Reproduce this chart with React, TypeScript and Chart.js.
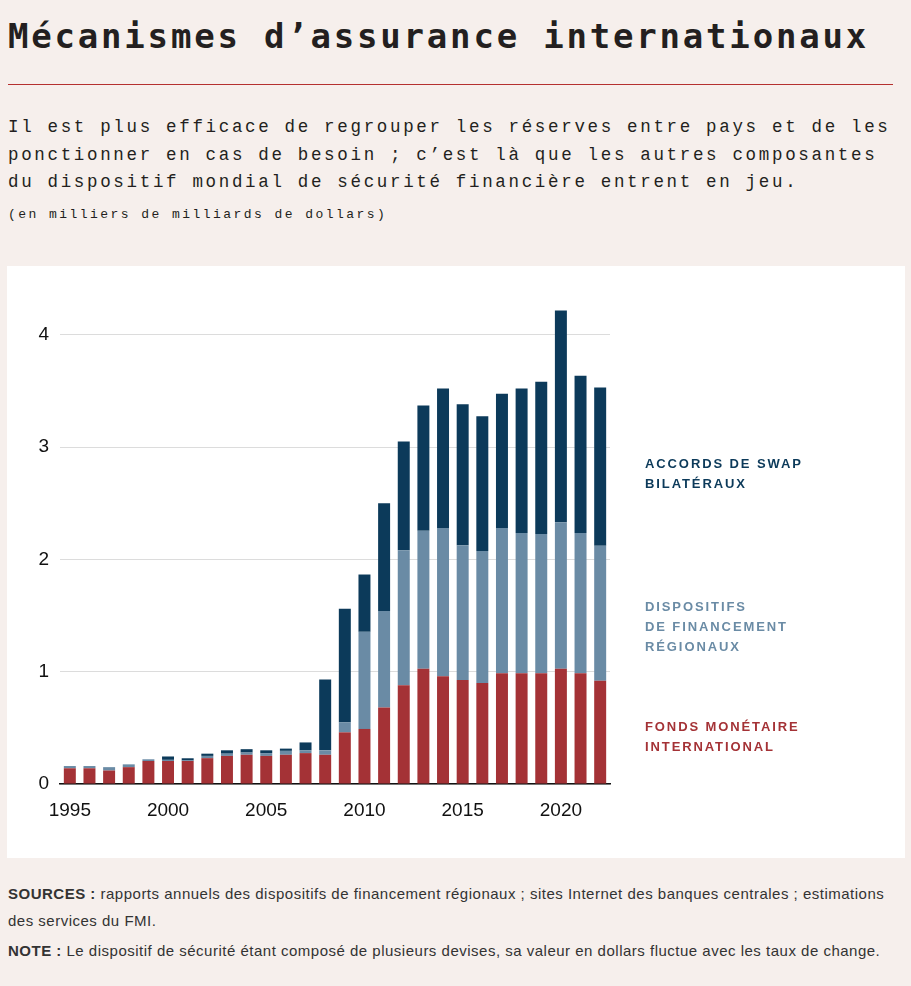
import React, { useEffect, useRef } from 'react';
import { Chart, registerables } from 'chart.js';

Chart.register(...registerables);

const years = [
  '1995', '1996', '1997', '1998', '1999', '2000', '2001', '2002', '2003', '2004',
  '2005', '2006', '2007', '2008', '2009', '2010', '2011', '2012', '2013', '2014',
  '2015', '2016', '2017', '2018', '2019', '2020', '2021', '2022',
];

// Fonds monétaire international
const fmi = [
  0.14, 0.14, 0.12, 0.15, 0.205, 0.205, 0.205, 0.23, 0.25, 0.26,
  0.25, 0.26, 0.275, 0.26, 0.46, 0.49, 0.68, 0.88, 1.025, 0.96,
  0.925, 0.9, 0.985, 0.985, 0.985, 1.025, 0.985, 0.92,
];

// Dispositifs de financement régionaux
const regional = [
  0.02, 0.02, 0.03, 0.025, 0.015, 0.01, 0.004, 0.02, 0.02, 0.02,
  0.025, 0.035, 0.025, 0.04, 0.09, 0.865, 0.86, 1.2, 1.23, 1.32,
  1.2, 1.175, 1.295, 1.25, 1.24, 1.305, 1.25, 1.2,
];

// Accords de swap bilatéraux
const bilateral = [
  0, 0, 0, 0, 0, 0.03, 0.02, 0.02, 0.03, 0.03,
  0.025, 0.02, 0.07, 0.63, 1.01, 0.51, 0.96, 0.97, 1.115, 1.24,
  1.255, 1.2, 1.195, 1.285, 1.355, 1.885, 1.4, 1.41,
];

const yTicks = [0, 1, 2, 3, 4];
const labeledYears = ['1995', '2000', '2005', '2010', '2015', '2020'];

const RED = '#a43236';
const GREYBLUE = '#6a8ba5';
const NAVY = '#0c3a5a';
const BG = '#f6efec';

export default function App() {
  const canvasRef = useRef<HTMLCanvasElement | null>(null);

  useEffect(() => {
    document.body.style.margin = '0';
    document.body.style.background = BG;
    const canvas = canvasRef.current;
    if (!canvas) return;
    const chart = new Chart(canvas, {
      type: 'bar',
      data: {
        labels: years,
        datasets: [
          { label: 'Fonds monétaire international', data: fmi, backgroundColor: RED, borderWidth: 0 },
          { label: 'Dispositifs de financement régionaux', data: regional, backgroundColor: GREYBLUE, borderWidth: 0 },
          { label: 'Accords de swap bilatéraux', data: bilateral, backgroundColor: NAVY, borderWidth: 0 },
        ],
      },
      options: {
        animation: false,
        responsive: true,
        maintainAspectRatio: false,
        datasets: { bar: { barPercentage: 0.61, categoryPercentage: 1 } },
        layout: { padding: { left: 0, right: 295, top: 35, bottom: 34 } },
        plugins: { legend: { display: false }, tooltip: { enabled: false } },
        scales: {
          x: {
            stacked: true,
            grid: { display: false, drawTicks: false },
            border: { display: true, color: '#111111', width: 1.5 },
            ticks: {
              autoSkip: false,
              maxRotation: 0,
              padding: 15,
              color: '#111111',
              font: { family: '"Liberation Sans", Arial, sans-serif', size: 19 },
              callback: (_v: any, i: number) => (labeledYears.includes(years[i]) ? years[i] : ''),
            },
            afterFit: (scale: any) => { scale.height = 40; },
          },
          y: {
            stacked: true,
            min: 0,
            max: 4.3,
            afterBuildTicks: (scale: any) => { scale.ticks = yTicks.map((v) => ({ value: v })); },
            grid: { color: '#dcdcdc', lineWidth: 1, drawTicks: false },
            border: { display: false },
            ticks: {
              padding: 11,
              color: '#111111',
              font: { family: '"Liberation Sans", Arial, sans-serif', size: 19 },
              callback: (v: any) => String(v),
            },
            afterFit: (scale: any) => { scale.width = 53; },
          },
        },
      },
    });
    return () => chart.destroy();
  }, []);

  const mono = '"Liberation Mono", "DejaVu Sans Mono", monospace';
  const sub: React.CSSProperties = {
    position: 'absolute', left: 8, fontFamily: mono, fontSize: 17.5, letterSpacing: '2.67px',
    lineHeight: '27.5px', color: '#231f20', whiteSpace: 'nowrap',
  };
  const legendBase: React.CSSProperties = {
    position: 'absolute', left: 645, fontFamily: '"Liberation Sans", Arial, sans-serif', fontWeight: 700,
    fontSize: 13, letterSpacing: '1.9px', lineHeight: '20px', whiteSpace: 'nowrap',
  };
  const foot: React.CSSProperties = {
    position: 'absolute', left: 8, fontFamily: '"Liberation Sans", Arial, sans-serif', fontSize: 15,
    letterSpacing: '0.5px', lineHeight: '20px', color: '#333', whiteSpace: 'nowrap',
  };

  return (
    <div style={{ position: 'relative', width: 911, height: 986, background: BG, overflow: 'hidden' }}>
      <div style={{
        position: 'absolute', left: 8, top: 20, fontFamily: '"DejaVu Sans Mono", monospace', fontWeight: 700,
        fontSize: 34, lineHeight: '33px', letterSpacing: '2.8px', color: '#231f20', whiteSpace: 'nowrap',
      }}>Mécanismes d’assurance internationaux</div>
      <div style={{ position: 'absolute', left: 8, top: 84, width: 885, height: 1, background: '#b5302f' }} />
      <div style={{ ...sub, top: 114 }}>Il est plus efficace de regrouper les réserves entre pays et de les</div>
      <div style={{ ...sub, top: 141.5 }}>ponctionner en cas de besoin ; c’est là que les autres composantes</div>
      <div style={{ ...sub, top: 169 }}>du dispositif mondial de sécurité financière entrent en jeu.</div>
      <div style={{
        position: 'absolute', left: 8, top: 207, fontFamily: mono, fontSize: 13, letterSpacing: '2.45px',
        lineHeight: '15px', color: '#231f20', whiteSpace: 'nowrap',
      }}>(en milliers de milliards de dollars)</div>

      <div style={{ position: 'absolute', left: 7, top: 266, width: 898, height: 592, background: '#ffffff' }}>
        <canvas ref={canvasRef} />
      </div>

      <div style={{ ...legendBase, top: 454, color: NAVY }}>ACCORDS DE SWAP<br />BILATÉRAUX</div>
      <div style={{ ...legendBase, top: 597, color: GREYBLUE }}>DISPOSITIFS<br />DE FINANCEMENT<br />RÉGIONAUX</div>
      <div style={{ ...legendBase, top: 717, color: RED }}>FONDS MONÉTAIRE<br />INTERNATIONAL</div>

      <div style={{ ...foot, top: 884 }}><b>SOURCES :</b> rapports annuels des dispositifs de financement régionaux ; sites Internet des banques centrales ; estimations</div>
      <div style={{ ...foot, top: 911 }}>des services du FMI.</div>
      <div style={{ ...foot, top: 941 }}><b>NOTE :</b> Le dispositif de sécurité étant composé de plusieurs devises, sa valeur en dollars fluctue avec les taux de change.</div>
    </div>
  );
}
